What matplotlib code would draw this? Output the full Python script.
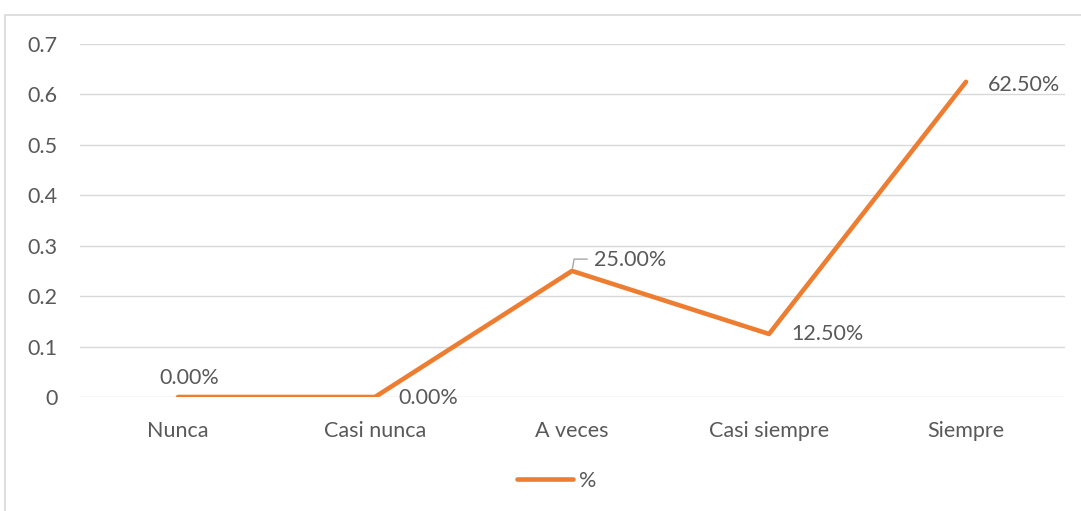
import matplotlib.pyplot as plt
from matplotlib.patches import Rectangle

categories = ["Nunca", "Casi nunca", "A veces", "Casi siempre", "Siempre"]
values = [0.0, 0.0, 0.25, 0.125, 0.625]
labels = ["0.00%", "0.00%", "25.00%", "12.50%", "62.50%"]
yticks = [0, 0.1, 0.2, 0.3, 0.4, 0.5, 0.6, 0.7]
ytick_labels = ["0", "0.1", "0.2", "0.3", "0.4", "0.5", "0.6", "0.7"]

plt.rcParams['font.family'] = ['Lato', 'DejaVu Sans']
txt = "#595959"
orange = "#ED7D31"
fs = 15.5

fig = plt.figure(figsize=(10.81, 5.11), dpi=100)
fig.patches.append(Rectangle((5 / 1081, -0.1), 1.2, 1 - 15 / 511 + 0.1,
                             transform=fig.transFigure, fill=False,
                             edgecolor="#D9D9D9", linewidth=1.2))

ax = fig.add_axes([79.5 / 1081, 114 / 511, 985 / 1081, 353 / 511])
x = list(range(len(categories)))
ax.plot(x, values, color=orange, linewidth=3.3, solid_capstyle="round",
        solid_joinstyle="round", label="%")
ax.set_xlim(-0.5, len(categories) - 0.5)
ax.set_ylim(0, 0.7)
ax.set_yticks(yticks)
ax.set_yticklabels(ytick_labels)
ax.set_xticks(x)
ax.set_xticklabels(categories)
ax.grid(axis="y", color="#D9D9D9", linewidth=1)
ax.set_axisbelow(True)
for s in ax.spines.values():
    s.set_visible(False)
ax.tick_params(length=0, labelsize=fs, colors=txt)
ax.tick_params(axis="y", pad=16)
ax.tick_params(axis="x", pad=17)

# data labels: (dx, dy) offsets in points
offsets = [(8, 14), (38, -1), (42, 8), (42, 0), (42, -2)]
for i, (v, lab) in enumerate(zip(values, labels)):
    dx, dy = offsets[i]
    ax.annotate(lab, (i, v), xytext=(dx, dy), textcoords="offset points",
                ha="center", va="center", fontsize=fs, color=txt)
# leader line for 25.00%
ax.annotate("", (2, 0.25), xytext=(11, 8.5), textcoords="offset points",
            arrowprops=dict(arrowstyle="-", color="#A6A6A6", linewidth=1,
                            connectionstyle="angle,angleA=0,angleB=80,rad=0",
                            shrinkA=0, shrinkB=2))

fig.legend(loc="center", bbox_to_anchor=(0.515, 30 / 511), frameon=False,
           fontsize=fs, labelcolor=txt, handlelength=2.6, handletextpad=0.3)

fig.savefig("out.png", dpi=100)
